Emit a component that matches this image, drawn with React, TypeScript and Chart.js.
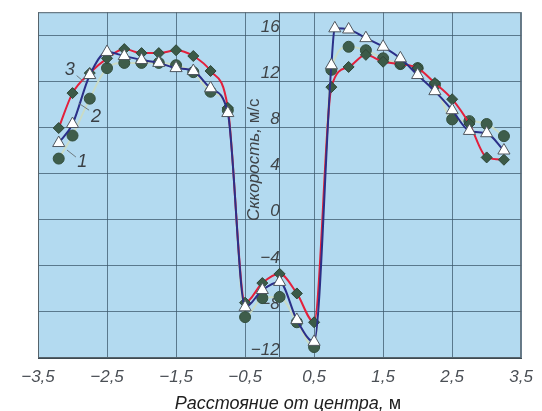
import React, { useEffect, useRef } from 'react';
import { Chart, registerables } from 'chart.js';

Chart.register(...registerables);

// ---- axis ticks ----
const xTickValues = [-3.5, -2.5, -1.5, -0.5, 0.5, 1.5, 2.5, 3.5];
const xTickLabels = ['\u22123,5', '\u22122,5', '\u22121,5', '\u22120,5', '0,5', '1,5', '2,5', '3,5'];
const yTickValues = [-12, -8, -4, 0, 4, 8, 12, 16];
const yTickLabels = ['\u221212', '\u22128', '\u22124', '0', '4', '8', '12', '16'];

const xTitleItalic = 'Расстояние от центра, ';
const xTitleUnit = 'м';
const yTitleItalic = 'Сккорость, ';
const yTitleUnit = 'м/с';

// ---- data ----
// series 1: circles
const positions1 = [-3.2, -3.0, -2.75, -2.5, -2.25, -2.0, -1.75, -1.5, -1.25, -1.0, -0.75, -0.5, -0.25, 0, 0.25, 0.5, 0.75, 1.0, 1.25, 1.5, 1.75, 2.0, 2.25, 2.5, 2.75, 3.0, 3.25];
const values1 = [5.3, 7.3, 10.5, 13.15, 13.6, 13.6, 13.6, 13.4, 12.8, 11.1, 9.5, -8.45, -6.8, -6.7, -8.9, -11.05, 13.0, 15.0, 14.7, 14.0, 13.5, 13.15, 11.7, 8.7, 8.55, 8.3, 7.25];

// series 2: triangles
const positions2 = [-3.2, -3.0, -2.75, -2.5, -2.25, -2.0, -1.75, -1.5, -1.25, -1.0, -0.75, -0.5, -0.25, 0, 0.25, 0.5, 0.75, 0.8, 1.0, 1.25, 1.5, 1.75, 2.0, 2.25, 2.5, 2.75, 3.0, 3.25];
const values2 = [6.65, 8.3, 12.55, 14.55, 14.2, 13.85, 13.6, 13.15, 12.9, 11.4, 9.25, -7.6, -6.1, -5.4, -8.7, -10.6, 13.4, 16.6, 16.5, 15.75, 15.0, 14.0, 12.55, 11.15, 9.5, 7.7, 7.5, 6.0];

// series 3: diamonds
const positions3 = [-3.2, -3.0, -2.75, -2.5, -2.25, -2.0, -1.75, -1.5, -1.25, -1.0, -0.75, -0.5, -0.25, 0, 0.25, 0.5, 0.75, 1.0, 1.25, 1.5, 1.75, 2.0, 2.25, 2.5, 2.75, 3.0, 3.25];
const values3 = [7.95, 10.98, 12.72, 14.0, 14.8, 14.45, 14.45, 14.7, 14.2, 12.9, 9.7, -7.2, -5.5, -4.7, -6.4, -8.9, 11.5, 13.25, 14.3, 13.7, 13.5, 13.15, 11.85, 10.45, 8.3, 5.4, 5.2];

// curve number labels (data coordinates) with leader lines
const curveNames = ['1', '2', '3'];
const curveLabelX = [-2.86, -2.66, -3.04];
const curveLabelY = [5.0, 8.9, 12.98];
const leaderFromX = [-2.95, -2.76, -2.94];
const leaderFromY = [5.43, 9.5, 12.5];
const leaderToX = [-3.08, -2.91, -2.83];
const leaderToY = [6.04, 10.1, 11.94];

const FONT = "'Liberation Sans', Arial, sans-serif";

const pts = (xs: number[], ys: number[]) => xs.map((x, i) => ({ x, y: ys[i] }));

const decor = {
  id: 'decor',
  beforeDraw(chart: any) {
    const { ctx, chartArea: a } = chart;
    ctx.save();
    ctx.fillStyle = '#b3daf0';
    ctx.fillRect(a.left, a.top, a.right - a.left, a.bottom - a.top);
    ctx.restore();
  },
  afterDraw(chart: any) {
    const { ctx, chartArea: a, scales } = chart;
    const xs = scales.x;
    const ys = scales.y;
    ctx.save();
    // frame
    ctx.strokeStyle = '#56636b';
    ctx.lineWidth = 1;
    ctx.strokeRect(a.left + 0.5, a.top + 0.5, a.right - a.left - 1, a.bottom - a.top - 1);

    // leader lines + curve numbers
    ctx.strokeStyle = '#6e7a80';
    ctx.lineWidth = 1;
    for (let i = 0; i < curveNames.length; i++) {
      ctx.beginPath();
      ctx.moveTo(xs.getPixelForValue(leaderFromX[i]), ys.getPixelForValue(leaderFromY[i]));
      ctx.lineTo(xs.getPixelForValue(leaderToX[i]), ys.getPixelForValue(leaderToY[i]));
      ctx.stroke();
    }
    ctx.fillStyle = '#3a3f44';
    ctx.font = `italic 18px ${FONT}`;
    ctx.textAlign = 'center';
    ctx.textBaseline = 'middle';
    for (let i = 0; i < curveNames.length; i++) {
      ctx.fillText(curveNames[i], xs.getPixelForValue(curveLabelX[i]), ys.getPixelForValue(curveLabelY[i]));
    }

    // y title (rotated, reading upward)
    ctx.fillStyle = '#3f4448';
    const fI = `italic 17px ${FONT}`;
    const fN = `17px ${FONT}`;
    ctx.font = fI;
    const wyI = ctx.measureText(yTitleItalic).width;
    ctx.font = fN;
    const wyN = ctx.measureText(yTitleUnit).width;
    const ycx = xs.getPixelForValue(0) - 25;
    const ycy = ys.getPixelForValue(5.2);
    ctx.save();
    ctx.translate(ycx, ycy);
    ctx.rotate(-Math.PI / 2);
    ctx.textAlign = 'left';
    ctx.textBaseline = 'middle';
    const sy = -(wyI + wyN) / 2;
    ctx.font = fI;
    ctx.fillText(yTitleItalic, sy, 0);
    ctx.font = fN;
    ctx.fillText(yTitleUnit, sy + wyI, 0);
    ctx.restore();

    // x title
    const fxI = `italic 18px ${FONT}`;
    const fxN = `18px ${FONT}`;
    ctx.font = fxI;
    const wxI = ctx.measureText(xTitleItalic).width;
    ctx.font = fxN;
    const wxN = ctx.measureText(xTitleUnit).width;
    const xcx = 288;
    const baseY = a.bottom + 51;
    ctx.textAlign = 'left';
    ctx.textBaseline = 'alphabetic';
    ctx.fillStyle = '#202020';
    const sx = xcx - (wxI + wxN) / 2;
    ctx.font = fxI;
    ctx.fillText(xTitleItalic, sx, baseY);
    ctx.font = fxN;
    ctx.fillText(xTitleUnit, sx + wxI, baseY);
    ctx.restore();
  },
};

export default function App() {
  const ref = useRef<HTMLCanvasElement | null>(null);

  useEffect(() => {
    if (!ref.current) return;
    const chart = new Chart(ref.current, {
      type: 'line',
      data: {
        datasets: [
          {
            label: '2',
            data: pts(positions2, values2),
            borderColor: '#2b2f88',
            borderWidth: 2,
            cubicInterpolationMode: 'monotone',
            pointStyle: 'triangle',
            pointRadius: 7,
            pointBackgroundColor: '#ffffff',
            pointBorderColor: '#505860',
            pointBorderWidth: 1,
            fill: false,
          },
          {
            label: '3',
            data: pts(positions3, values3),
            borderColor: '#e2203c',
            borderWidth: 2,
            cubicInterpolationMode: 'monotone',
            pointStyle: 'rectRot',
            pointRadius: 5.5,
            pointBackgroundColor: '#3b5a48',
            pointBorderColor: '#2e4738',
            pointBorderWidth: 1,
            fill: false,
          },
          {
            label: '1',
            data: pts(positions1, values1),
            borderColor: '#c9dbc6',
            borderWidth: 2,
            cubicInterpolationMode: 'monotone',
            pointStyle: 'circle',
            pointRadius: 5.5,
            pointBackgroundColor: '#3e5d4b',
            pointBorderColor: '#34503f',
            pointBorderWidth: 1,
            fill: false,
          },
        ],
      },
      options: {
        animation: false,
        responsive: false,
        devicePixelRatio: 1,
        layout: { padding: { left: 38, right: 20, top: 12, bottom: 0 } },
        plugins: { legend: { display: false }, tooltip: { enabled: false } },
        scales: {
          x: {
            type: 'linear',
            position: 'bottom',
            min: -3.5,
            max: 3.5,
            afterBuildTicks: (s: any) => {
              s.ticks = xTickValues.map((v) => ({ value: v }));
            },
            afterFit: (s: any) => {
              s.height = 53;
            },
            ticks: {
              autoSkip: false,
              maxRotation: 0,
              padding: 9,
              color: '#4a4f55',
              font: { family: FONT, size: 17, style: 'italic' },
              callback: (_v: any, i: number) => xTickLabels[i],
            },
            grid: { color: 'rgba(60,88,108,0.75)', lineWidth: 1, drawTicks: false },
            border: { display: true, color: '#3d4a52', width: 1 },
          },
          y: {
            type: 'linear',
            position: { x: 0 } as any,
            min: -12,
            max: 18,
            afterBuildTicks: (s: any) => {
              s.ticks = yTickValues.map((v) => ({ value: v }));
            },
            ticks: {
              autoSkip: false,
              padding: 2,
              labelOffset: -8,
              color: '#3f4448',
              font: { family: FONT, size: 17, style: 'italic' },
              callback: (_v: any, i: number) => yTickLabels[i],
            },
            grid: { color: 'rgba(60,88,108,0.75)', lineWidth: 1, drawTicks: false },
            border: { display: true, color: 'rgba(50,75,95,0.85)', width: 1 },
          },
        },
      },
      plugins: [decor],
    } as any);
    return () => chart.destroy();
  }, []);

  return (
    <div style={{ position: 'fixed', left: 0, top: 0, width: 542, height: 411, background: '#ffffff' }}>
      <canvas ref={ref} width={542} height={411} style={{ width: 542, height: 411, display: 'block' }} />
    </div>
  );
}
